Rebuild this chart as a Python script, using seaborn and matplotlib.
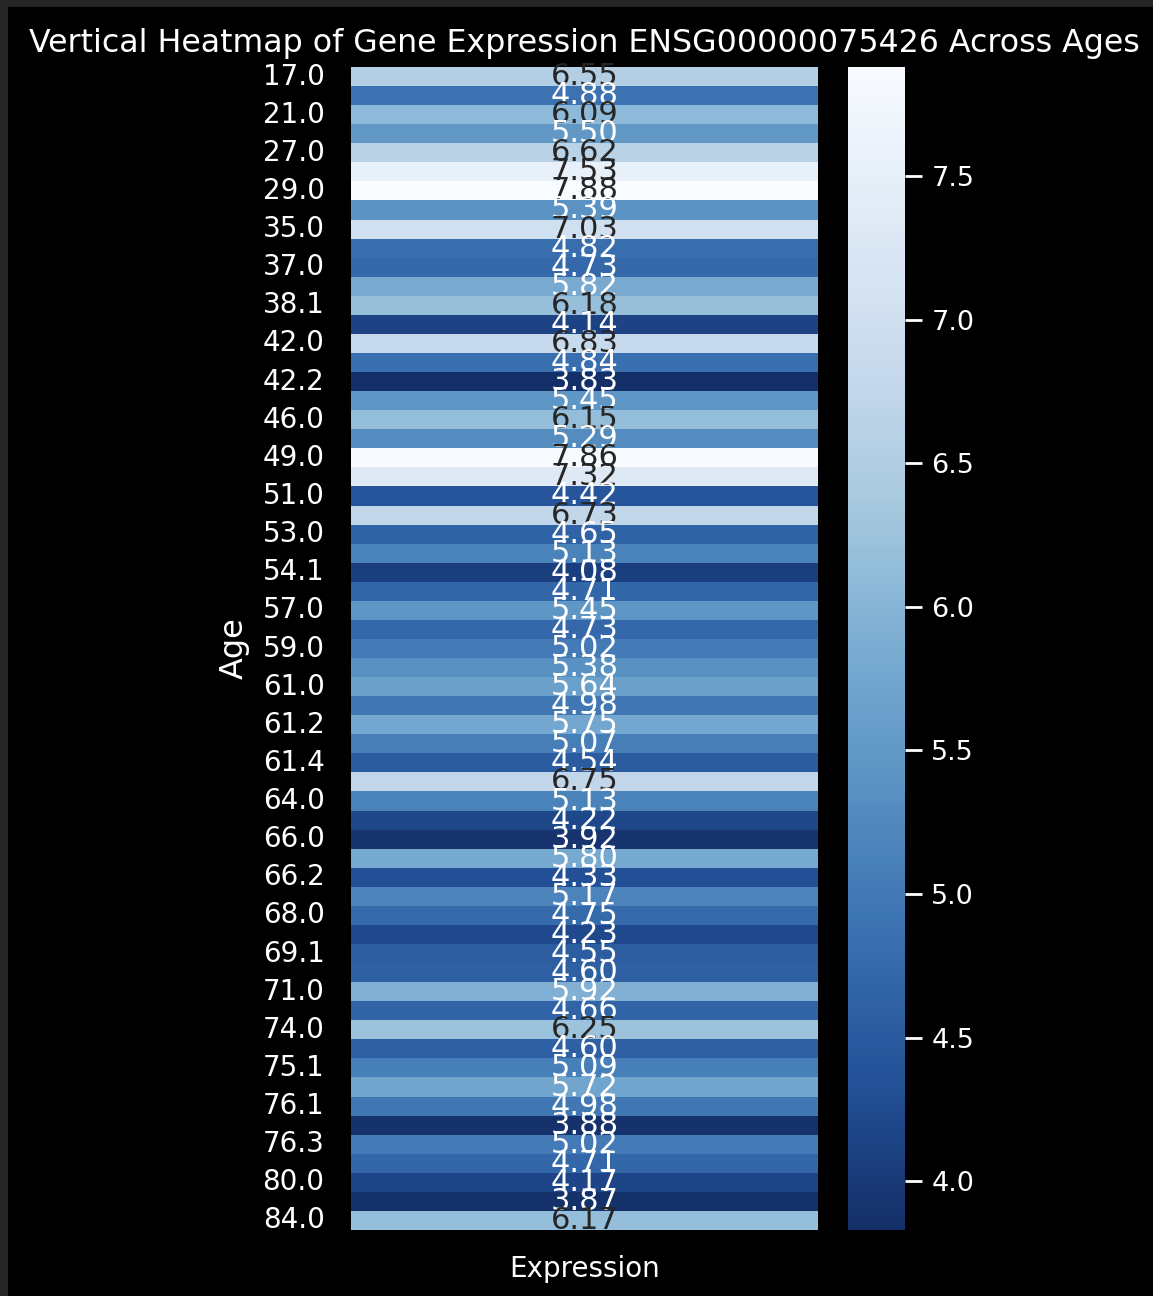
import matplotlib
matplotlib.use("Agg")
import matplotlib.pyplot as plt
import seaborn as sns
import pandas as pd
import numpy as np
from matplotlib.patches import Rectangle
from matplotlib.colors import ListedColormap

ages = [17.0, 19.0, 21.0, 24.0, 27.0, 28.0, 29.0, 33.0, 35.0, 36.0,
        37.0, 38.0, 38.1, 41.0, 42.0, 42.1, 42.2, 45.0, 46.0, 48.0,
        49.0, 50.0, 51.0, 52.0, 53.0, 54.0, 54.1, 56.0, 57.0, 58.0,
        59.0, 60.0, 61.0, 61.1, 61.2, 61.3, 61.4, 63.0, 64.0, 65.0,
        66.0, 66.1, 66.2, 67.0, 68.0, 69.0, 69.1, 70.0, 71.0, 73.0,
        74.0, 75.0, 75.1, 76.0, 76.1, 76.2, 76.3, 78.0, 80.0, 82.0,
        84.0]
expression = [6.55, 4.88, 6.09, 5.50, 6.62, 7.53, 7.88, 5.39, 7.03, 4.82,
              4.73, 5.82, 6.18, 4.14, 6.83, 4.84, 3.83, 5.45, 6.15, 5.29,
              7.86, 7.32, 4.42, 6.73, 4.65, 5.13, 4.08, 4.71, 5.45, 4.73,
              5.02, 5.38, 5.64, 4.98, 5.75, 5.07, 4.54, 6.75, 5.13, 4.22,
              3.92, 5.80, 4.33, 5.17, 4.75, 4.23, 4.55, 4.60, 5.92, 4.66,
              6.25, 4.60, 5.09, 5.72, 4.98, 3.88, 5.02, 4.71, 4.17, 3.87,
              6.17]

df = pd.DataFrame({"Expression": expression}, index=pd.Index(ages, name="Age"))

# Blues_r, with the slightly muted tones seen in the reference
base = plt.get_cmap("Blues_r")(np.linspace(0, 1, 256))[:, :3]
lin = np.where(base <= 0.04045, base / 12.92, ((base + 0.055) / 1.055) ** 2.4)
M = np.array([[0.8225, 0.1774, 0.0000],
              [0.0332, 0.9669, 0.0000],
              [0.0171, 0.0724, 0.9108]])
lin2 = np.clip(lin @ M.T, 0, 1)
enc = np.where(lin2 <= 0.0031308, lin2 * 12.92, 1.055 * lin2 ** (1 / 2.4) - 0.055)
cmap = ListedColormap(np.clip(enc, 0, 1))

plt.style.use("dark_background")
plt.rcParams['font.family'] = ['DejaVu Sans']

W, H = 1153, 1296
fig = plt.figure(figsize=(W / 100, H / 100), dpi=100)
fig.patch.set_facecolor("black")
fig.patches.append(Rectangle((0, 0), 8 / W, 1, transform=fig.transFigure,
                             facecolor="#262626", edgecolor="none", zorder=-1))
fig.patches.append(Rectangle((0, 1 - 7 / H), 1, 7 / H, transform=fig.transFigure,
                             facecolor="#262626", edgecolor="none", zorder=-1))

ax = fig.add_axes([351 / W, 1 - 1230 / H, (818 - 351) / W, (1230 - 67) / H])
cax = fig.add_axes([848 / W, 1 - 1230 / H, (905 - 848) / W, (1230 - 67) / H])

sns.heatmap(df, ax=ax, cbar_ax=cax, cmap=cmap, annot=True, fmt=".2f",
            annot_kws={"fontsize": 22}, yticklabels=2)

ax.set_title("Vertical Heatmap of Gene Expression ENSG00000075426 Across Ages",
             fontsize=22.8, color="white", pad=11)
ax.set_ylabel("Age", fontsize=23, color="white", labelpad=9)
ax.set_xlabel("")
ax.tick_params(axis="y", labelsize=20, colors="white", length=0, pad=19, rotation=0)
ax.tick_params(axis="x", labelsize=20, colors="white", length=0, pad=18)

cax.tick_params(labelsize=19.5, colors="white", length=12, width=2, pad=7)
for s in cax.spines.values():
    s.set_visible(False)

fig.savefig("out.png", dpi=100, facecolor=fig.get_facecolor())
